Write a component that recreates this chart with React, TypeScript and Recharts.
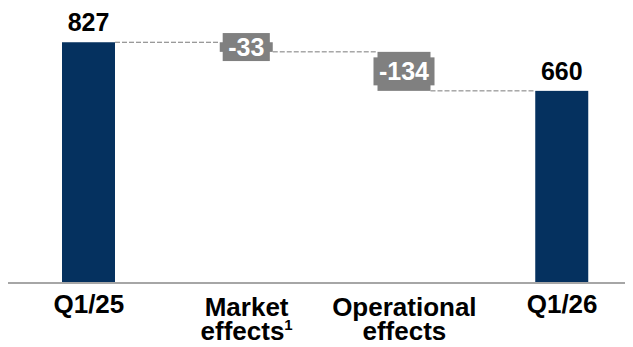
import { BarChart, Bar, XAxis, YAxis, LabelList } from "recharts"

const categories = ["Q1/25", "Market\neffects", "Operational\neffects", "Q1/26"]
const footnotes = ["", "1", "", ""]
const values = [827, -33, -134, 660]
const isTotal = [true, false, false, true]

const NAVY = "#05315f"
const GREY = "#808080"
const FONT = "'Liberation Sans', Arial, sans-serif"

const CHART_W = 640
const CHART_H = 339
const PAD_L = 2
const PAD_R = 7
const STEP = (CHART_W - PAD_L - PAD_R) / categories.length

// waterfall: each step is a [low, high] range, totals start from zero
let running = 0
const data = categories.map((name, i) => {
  let low = 0
  let high = values[i]
  if (isTotal[i]) {
    running = values[i]
  } else {
    const next = running + values[i]
    low = Math.min(running, next)
    high = Math.max(running, next)
    running = next
  }
  return { name, value: values[i], range: [low, high], total: isTotal[i], note: footnotes[i] }
})

function StepBar(props: any) {
  const { x, y, width, height, index } = props
  const d = data[index]
  const top = Math.min(y, y + height)
  const h = Math.abs(height)
  const lineY = !d.total && d.value < 0 ? top + h : top
  const last = index === data.length - 1
  return (
    <g>
      {!last && (
        <line
          x1={x + width}
          x2={x + STEP}
          y1={lineY}
          y2={lineY}
          stroke="#7a7a7a"
          strokeWidth={1}
          strokeDasharray="5 2"
        />
      )}
      <rect x={x} y={top} width={width} height={h} fill={d.total ? NAVY : GREY} />
    </g>
  )
}

function StepLabel(props: any) {
  const { x, y, width, height, index } = props
  const d = data[index]
  const top = Math.min(y, y + height)
  const h = Math.abs(height)
  const cx = x + width / 2
  const text = String(d.value)
  if (d.total) {
    return (
      <text x={cx} y={top - 11} textAnchor="middle" fontSize={25} fontWeight="bold" fill="#000" fontFamily={FONT}>
        {text}
      </text>
    )
  }
  const fs = 25
  const tw = text.split("").reduce((s, c) => s + (c === "-" ? 0.333 : 0.556) * fs, 0)
  const bw = tw + 11
  const cy = top + h / 2
  return (
    <g>
      <rect x={cx - bw / 2} y={cy - 14} width={bw} height={28} fill={GREY} />
      <text x={cx} y={cy + 9} textAnchor="middle" fontSize={fs} fontWeight="bold" fill="#fff" fontFamily={FONT}>
        {text}
      </text>
    </g>
  )
}

function CategoryTick(props: any) {
  const { x, y, payload, index } = props
  const lines = String(payload.value).split("\n")
  const note = footnotes[index]
  if (lines.length === 1) {
    return (
      <text x={x} y={y + 30} textAnchor="middle" fontSize={26} fontWeight="bold" fill="#000" fontFamily={FONT}>
        {lines[0]}
      </text>
    )
  }
  return (
    <g>
      <text x={x} y={y + 33} textAnchor="middle" fontSize={26} fontWeight="bold" fill="#000" fontFamily={FONT}>
        {lines[0]}
      </text>
      <text x={x} y={y + 57} textAnchor="middle" fontSize={26} fontWeight="bold" fill="#000" fontFamily={FONT}>
        {lines[1]}
        {note && (
          <tspan fontSize={15} dy={-10}>
            {note}
          </tspan>
        )}
      </text>
    </g>
  )
}

export default function App() {
  return (
    <div style={{ width: 625, overflow: "hidden", fontFamily: FONT }}>
      <BarChart width={CHART_W} height={CHART_H} data={data} margin={{ top: 13, right: 0, left: 0, bottom: 4 }}>
        <XAxis
          dataKey="name"
          interval={0}
          tick={<CategoryTick />}
          tickLine={false}
          tickSize={0}
          tickMargin={0}
          height={60}
          padding={{ left: PAD_L, right: PAD_R }}
          axisLine={{ stroke: "#a6a6a6", strokeWidth: 2 }}
        />
        <YAxis hide domain={[0, 900]} />
        <Bar dataKey="range" barSize={53} shape={<StepBar />} isAnimationActive={false}>
          <LabelList dataKey="value" content={<StepLabel />} />
        </Bar>
      </BarChart>
    </div>
  )
}
